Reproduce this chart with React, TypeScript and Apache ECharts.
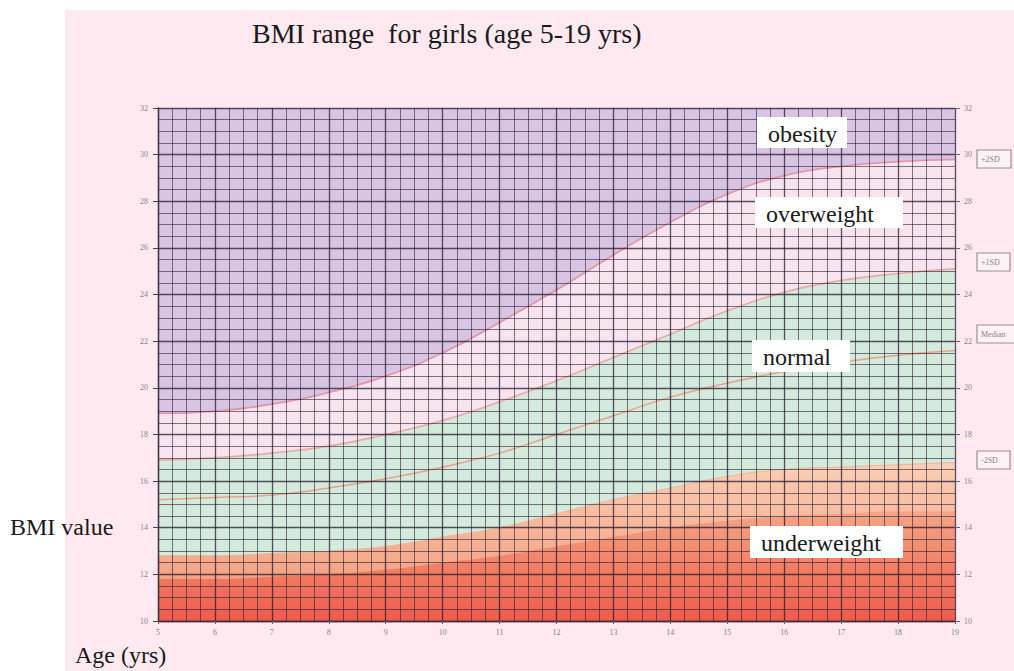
import React, { useEffect, useRef } from "react";
import * as echarts from "echarts";

// ---- data ----
const ages = [5, 6, 7, 8, 9, 10, 11, 12, 13, 14, 15, 16, 17, 18, 19];
const plus2SD = [18.9, 19.0, 19.3, 19.8, 20.5, 21.5, 22.8, 24.2, 25.7, 27.1, 28.3, 29.1, 29.5, 29.7, 29.8];
const plus1SD = [16.9, 17.0, 17.2, 17.5, 18.0, 18.6, 19.4, 20.3, 21.3, 22.3, 23.3, 24.1, 24.6, 24.9, 25.1];
const median = [15.2, 15.3, 15.4, 15.7, 16.1, 16.6, 17.2, 18.0, 18.8, 19.6, 20.2, 20.7, 21.1, 21.4, 21.6];
const minus2SD = [12.8, 12.8, 12.9, 13.0, 13.2, 13.6, 14.0, 14.6, 15.2, 15.7, 16.2, 16.5, 16.6, 16.7, 16.8];
const minus3SD = [11.8, 11.8, 11.9, 12.0, 12.2, 12.5, 12.8, 13.2, 13.6, 14.0, 14.3, 14.5, 14.6, 14.7, 14.7];
const bmiMin = 10;
const bmiMax = 32;
const bmiStep = 2;
const ageMin = 5;
const ageMax = 19;
const bandLabels = ["obesity", "overweight", "normal", "underweight"];
const sdLabels = ["+2SD", "+1SD", "Median", "-2SD"];
const titleText = "BMI range  for girls (age 5-19 yrs)";
const yName = "BMI value";
const xName = "Age (yrs)";

const SERIF = '"Liberation Serif", "Times New Roman", serif';

const pairs = (vals: number[]) => vals.map((v, i) => [ages[i], v]);

export default function App() {
  const ref = useRef<HTMLDivElement>(null);

  useEffect(() => {
    if (!ref.current) return;
    const chart = echarts.init(ref.current, undefined, { renderer: "svg" });

    const majorLine = { show: true, lineStyle: { color: "rgba(35,25,45,0.75)", width: 1.3 } };
    const minorLine = { show: true, lineStyle: { color: "rgba(35,25,45,0.58)", width: 1 } };
    const axisLabel = { fontSize: 8, color: "#8a8088", fontFamily: SERIF };

    const curve = (
      name: string,
      vals: number[],
      lineColor: string,
      lineWidth: number,
      area?: any
    ) => ({
      name,
      type: "line",
      data: pairs(vals),
      smooth: 0.5,
      symbol: "none",
      silent: true,
      lineStyle: { color: lineColor, width: lineWidth },
      areaStyle: area,
    });

    const bandBoxes = [
      { x: 757, y: 117, w: 90, h: 31 },
      { x: 755, y: 197, w: 148, h: 31 },
      { x: 752, y: 340, w: 98, h: 32 },
      { x: 750, y: 526, w: 153, h: 32 },
    ];
    const sdBoxes = [
      { y: 150, w: 34 },
      { y: 253, w: 33 },
      { y: 325, w: 42 },
      { y: 451, w: 33 },
    ];

    const graphics: any[] = [
      {
        type: "text",
        x: 252,
        y: 33,
        silent: true,
        style: { text: titleText, font: `28px ${SERIF}`, fill: "#1a1a1a", align: "left", verticalAlign: "middle" },
      },
      {
        type: "text",
        x: 10,
        y: 527,
        silent: true,
        style: { text: yName, font: `24px ${SERIF}`, fill: "#1a1a1a", align: "left", verticalAlign: "middle" },
      },
      {
        type: "text",
        x: 75,
        y: 655,
        silent: true,
        style: { text: xName, font: `24px ${SERIF}`, fill: "#1a1a1a", align: "left", verticalAlign: "middle" },
      },
    ];
    bandLabels.forEach((t, i) => {
      const b = bandBoxes[i];
      graphics.push({
        type: "rect",
        silent: true,
        z: 100,
        shape: { x: b.x, y: b.y, width: b.w, height: b.h },
        style: { fill: "#ffffff" },
      });
      graphics.push({
        type: "text",
        silent: true,
        z: 101,
        x: b.x + 11,
        y: b.y + b.h / 2 + 1,
        style: { text: t, font: `24px ${SERIF}`, fill: "#1a1a1a", align: "left", verticalAlign: "middle" },
      });
    });
    sdLabels.forEach((t, i) => {
      const b = sdBoxes[i];
      graphics.push({
        type: "rect",
        silent: true,
        shape: { x: 977, y: b.y, width: b.w, height: 18 },
        style: { fill: "#fcf1f5", stroke: "#9a9096", lineWidth: 1.2 },
      });
      graphics.push({
        type: "text",
        silent: true,
        x: 981,
        y: b.y + 9,
        style: { text: t, font: `8px ${SERIF}`, fill: "#8a8088", align: "left", verticalAlign: "middle" },
      });
    });

    chart.setOption({
      animation: false,
      grid: {
        left: 158,
        right: 59,
        top: 108,
        bottom: 50,
        show: true,
        backgroundColor: "#f7e4ef",
        borderWidth: 0,
      },
      xAxis: {
        type: "value",
        min: ageMin,
        max: ageMax,
        interval: 1,
        z: 5,
        axisLine: { show: true, lineStyle: { color: "#3a3040", width: 1.3 } },
        axisTick: { show: true, length: 3, lineStyle: { color: "#6a6068" } },
        axisLabel: { ...axisLabel, margin: 7 },
        splitLine: majorLine,
        minorTick: { show: false, splitNumber: 4 },
        minorSplitLine: minorLine,
      },
      yAxis: [
        {
          type: "value",
          min: bmiMin,
          max: bmiMax,
          interval: bmiStep,
          z: 5,
          axisLine: { show: true, lineStyle: { color: "#3a3040", width: 1.3 } },
          axisTick: { show: true, length: 5, lineStyle: { color: "#4a4048" } },
          axisLabel: { ...axisLabel, margin: 10 },
          splitLine: majorLine,
          minorTick: { show: false, splitNumber: 4 },
          minorSplitLine: minorLine,
        },
        {
          type: "value",
          position: "right",
          min: bmiMin,
          max: bmiMax,
          interval: bmiStep,
          z: 5,
          axisLine: { show: false },
          axisTick: { show: true, length: 5, lineStyle: { color: "#6a6068" } },
          axisLabel: { ...axisLabel, margin: 9 },
          splitLine: { show: false },
        },
      ],
      series: [
        curve("+2SD", plus2SD, "#e395a9", 1.8, { origin: "end", color: "#d9c5e3", opacity: 1 }),
        curve("+1SD", plus1SD, "#eda8a4", 1.6, { origin: "start", color: "#d3eadc", opacity: 1 }),
        curve("-2SD", minus2SD, "#f2b495", 1, {
          origin: "start",
          opacity: 1,
          color: new echarts.graphic.LinearGradient(0, 455, 0, 585, [
            { offset: 0, color: "#fbd3ba" },
            { offset: 1, color: "#f4a081" },
          ], true),
        }),
        curve("-3SD", minus3SD, "rgba(0,0,0,0)", 0, {
          origin: "start",
          opacity: 1,
          color: new echarts.graphic.LinearGradient(0, 505, 0, 621, [
            { offset: 0, color: "#f5aa8c" },
            { offset: 0.5, color: "#f28268" },
            { offset: 1, color: "#ee5b4c" },
          ], true),
        }),
        curve("Median", median, "#e7a287", 1.5),
      ],
      graphic: graphics,
    });

    return () => chart.dispose();
  }, []);

  return (
    <div style={{ position: "fixed", left: 0, top: 0, width: 1014, height: 671, background: "#ffffff" }}>
      <div style={{ position: "absolute", left: 65, top: 10, width: 949, height: 661, background: "#fde9ef" }} />
      <div ref={ref} style={{ position: "absolute", left: 0, top: 0, width: 1014, height: 671 }} />
    </div>
  );
}
